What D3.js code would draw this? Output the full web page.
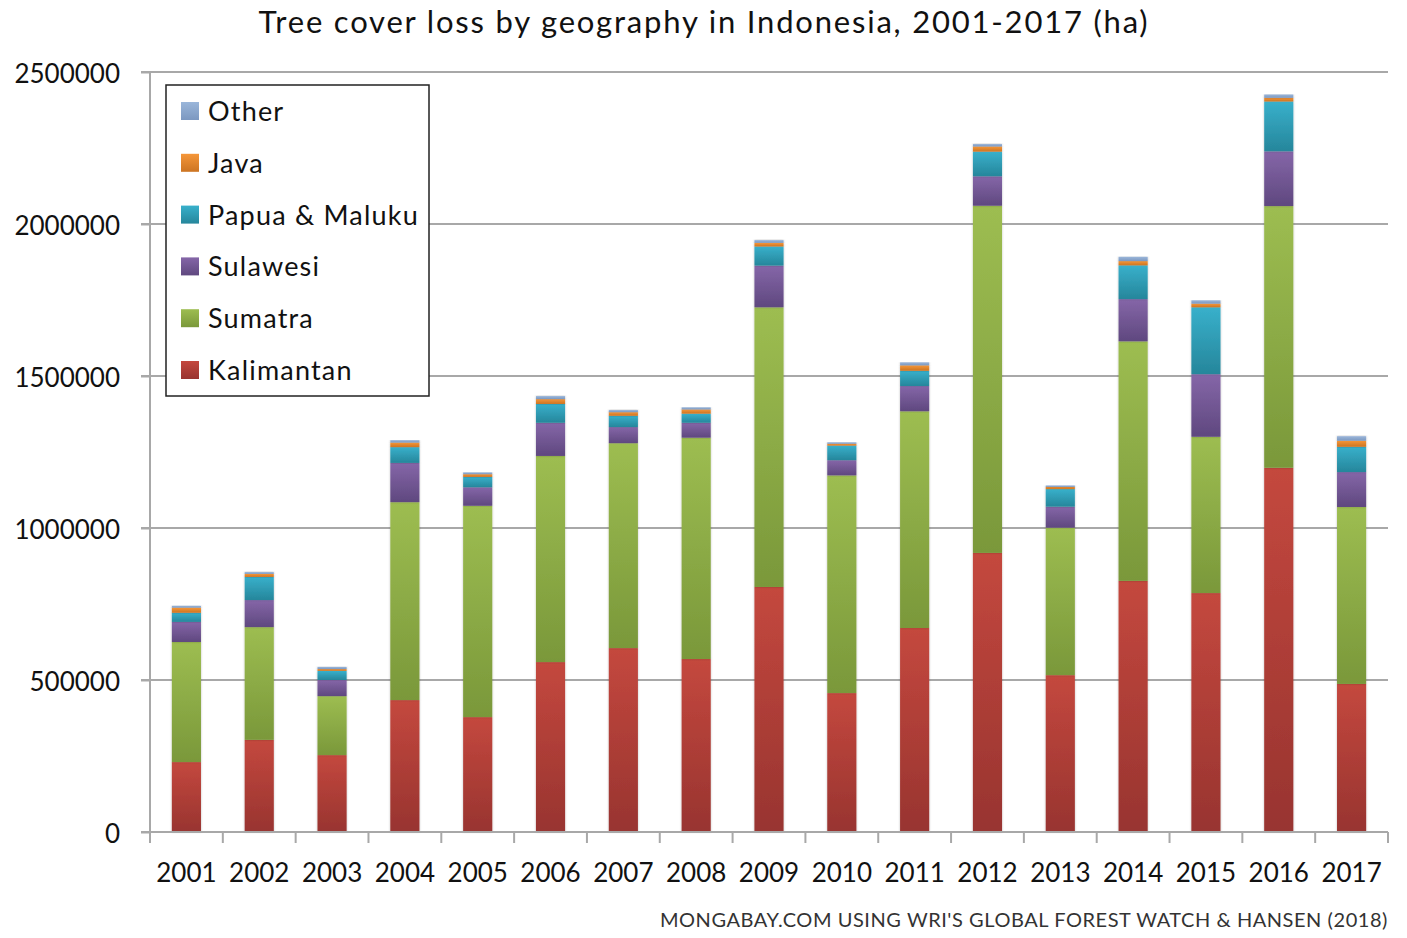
<!DOCTYPE html>
<html>
<head>
<meta charset="utf-8">
<script src="https://cdn.jsdelivr.net/npm/d3@7"></script>
<style>
  body { margin: 0; background: #fff; }
  svg text { font-family: Lato, "Noto Sans", sans-serif; }
</style>
</head>
<body>
<div class="chart"></div>
<script>
// years along the x axis
const years = ["2001", "2002", "2003", "2004", "2005", "2006", "2007", "2008", "2009",
	"2010", "2011", "2012", "2013", "2014", "2015", "2016", "2017"];

// loss per region in ha
const kalimantan = [230000, 303000, 253000, 434000, 378000, 559000, 605000, 569000, 806000,
	457000, 671000, 918000, 516000, 826000, 786000, 1198000, 487000];
const sumatra = [395000, 371000, 194000, 651000, 695000, 678000, 674000, 728000, 920000,
	716000, 713000, 1142000, 485000, 788000, 514000, 861000, 582000];
const sulawesi = [66000, 89000, 53000, 129000, 61000, 109000, 53000, 49000, 137000,
	50000, 83000, 97000, 69000, 139000, 206000, 180000, 115000];
const papua = [30000, 76000, 30000, 52000, 34000, 62000, 37000, 30000, 63000,
	48000, 50000, 81000, 58000, 111000, 220000, 164000, 83000];
const java = [17000, 10000, 6000, 15000, 9000, 16000, 12000, 14000, 12000,
	6000, 18000, 17000, 7000, 14000, 12000, 12000, 20000];
const other = [6000, 6000, 7000, 8000, 6000, 10000, 7000, 7000, 9000,
	5000, 10000, 8000, 5000, 14000, 11000, 11000, 15000];

const yTicks = [0, 500000, 1000000, 1500000, 2000000, 2500000];

const seriesNames = ["Kalimantan", "Sumatra", "Sulawesi", "Papua & Maluku", "Java", "Other"];
const seriesValues = [kalimantan, sumatra, sulawesi, papua, java, other];
const colorsTop = ["#c4483e", "#9dbd51", "#8566a8", "#38b0cb", "#f59638", "#9ab6da"];
const colorsBottom = ["#983430", "#7a983a", "#5f487f", "#26869b", "#cc7422", "#7c98c0"];

const table = years.map((yr, i) => {
	const row = { year: yr };
	seriesNames.forEach((name, j) => (row[name] = seriesValues[j][i]));
	return row;
});

const W = 1407, H = 938;
const margin = { top: 72, right: 19, bottom: 106, left: 150 };

const svg = d3.select(".chart").append("svg")
	.attr("width", W)
	.attr("height", H);

const defs = svg.append("defs");
seriesNames.forEach((name, j) => {
	const g = defs.append("linearGradient")
		.attr("id", "grad" + j)
		.attr("x1", 0).attr("y1", 0).attr("x2", 0).attr("y2", 1);
	g.append("stop").attr("offset", "0%").attr("stop-color", colorsTop[j]);
	g.append("stop").attr("offset", "100%").attr("stop-color", colorsBottom[j]);
});
const shadow = defs.append("filter").attr("id", "shadow")
	.attr("x", "-20%").attr("y", "-5%").attr("width", "140%").attr("height", "110%");
shadow.append("feDropShadow").attr("dx", 0).attr("dy", 0)
	.attr("stdDeviation", 1.2).attr("flood-color", "#000").attr("flood-opacity", 0.25);

const x = d3.scaleBand()
	.domain(years)
	.range([margin.left, W - margin.right])
	.paddingInner(0.6)
	.paddingOuter(0.3);

const y = d3.scaleLinear()
	.domain([0, 2500000])
	.range([H - margin.bottom, margin.top]);

// title
svg.append("text")
	.attr("x", 704)
	.attr("y", 33)
	.attr("text-anchor", "middle")
	.style("font-size", "31px")
	.style("letter-spacing", "1.8px")
	.attr("fill", "#111")
	.text("Tree cover loss by geography in Indonesia, 2001-2017 (ha)");

// grid lines
svg.append("g")
	.selectAll("line")
	.data(yTicks.slice(1))
	.join("line")
	.attr("x1", margin.left - 9)
	.attr("x2", W - margin.right)
	.attr("y1", (d) => y(d))
	.attr("y2", (d) => y(d))
	.attr("stroke", "#a8a8a8")
	.attr("stroke-width", 2);

// y axis
const yAxis = svg.append("g")
	.attr("transform", "translate(" + margin.left + ",0)")
	.call(d3.axisLeft(y).tickValues(yTicks).tickFormat(d3.format("d")).tickSize(9).tickPadding(21));
yAxis.selectAll("line").attr("stroke", "#a8a8a8").attr("stroke-width", 2);
yAxis.select(".domain").attr("stroke", "#a8a8a8").attr("stroke-width", 2)
	.attr("d", "M0," + y(2500000) + "V" + (H - margin.bottom + 11));
yAxis.selectAll("text").style("font-size", "26px").attr("fill", "#111").attr("dy", "0.42em");

// stacked bars
const stack = d3.stack().keys(seriesNames)(table);

svg.append("g")
	.selectAll("g")
	.data(stack)
	.join("g")
	.attr("fill", (d, j) => "url(#grad" + j + ")")
	.selectAll("rect")
	.data((d) => d)
	.join("rect")
	.attr("filter", "url(#shadow)")
	.attr("x", (d) => x(d.data.year))
	.attr("width", x.bandwidth())
	.attr("y", (d) => y(d[1]))
	.attr("height", (d) => y(d[0]) - y(d[1]));

// x axis
const xAxis = svg.append("g")
	.attr("transform", "translate(0," + (H - margin.bottom) + ")")
	.call(d3.axisBottom(x).tickSize(0).tickPadding(32));
xAxis.select(".domain").attr("stroke", "#a8a8a8").attr("stroke-width", 2)
	.attr("d", "M" + (margin.left - 9) + ",0H" + (W - margin.right));
xAxis.selectAll("text").style("font-size", "26px").attr("fill", "#111");

// x tick marks at band boundaries
const bounds = years.map((yr) => x(yr) - x.step() * x.paddingOuter()).concat([W - margin.right]);
xAxis.append("g")
	.selectAll("line")
	.data(bounds)
	.join("line")
	.attr("x1", (d) => d)
	.attr("x2", (d) => d)
	.attr("y1", 0)
	.attr("y2", 11)
	.attr("stroke", "#a8a8a8")
	.attr("stroke-width", 2);

// legend
const legend = svg.append("g").attr("transform", "translate(166,85)");
legend.append("rect")
	.attr("width", 263)
	.attr("height", 311)
	.attr("fill", "#fff")
	.attr("stroke", "#222")
	.attr("stroke-width", 1.5);

const legendOrder = seriesNames.map((n, j) => j).reverse();
const item = legend.selectAll("g.item")
	.data(legendOrder)
	.join("g")
	.attr("class", "item")
	.attr("transform", (d, i) => "translate(15," + (26 + i * 51.8) + ")");
item.append("rect")
	.attr("y", -9)
	.attr("width", 18)
	.attr("height", 18)
	.attr("fill", (d) => "url(#grad" + d + ")");
item.append("text")
	.attr("x", 27)
	.attr("y", 10)
	.style("font-size", "27px")
	.style("letter-spacing", "1.2px")
	.attr("fill", "#111")
	.text((d) => seriesNames[d]);

// source note
svg.append("text")
	.attr("x", W - margin.right)
	.attr("y", 927)
	.attr("text-anchor", "end")
	.style("font-size", "20px")
	.style("letter-spacing", "0.55px")
	.attr("fill", "#333")
	.text("MONGABAY.COM USING WRI'S GLOBAL FOREST WATCH & HANSEN (2018)");
</script>
</body>
</html>
